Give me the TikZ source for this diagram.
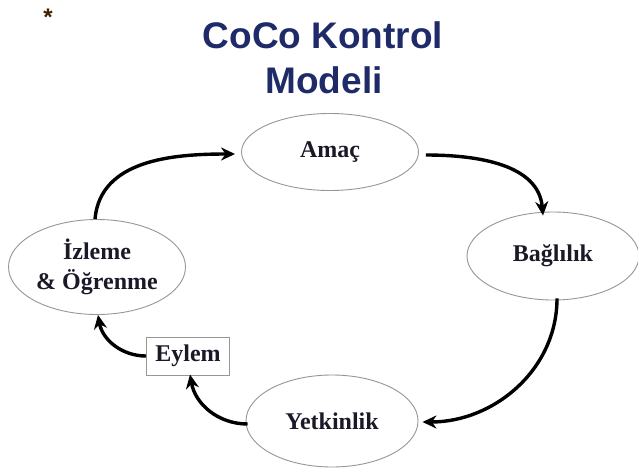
\documentclass[tikz,border=0pt]{standalone}
\usepackage{fontspec}
\setmainfont{Liberation Serif}
\newfontfamily\titlefont{Liberation Sans}
\usetikzlibrary{shapes.geometric,arrows.meta}
\definecolor{titleblue}{RGB}{31,42,104}
\definecolor{ringgray}{RGB}{150,150,150}
\definecolor{labelink}{RGB}{25,25,40}
\tikzset{
  stage/.style={ellipse, draw=ringgray, line width=0.9pt, inner sep=0pt,
    text=labelink, font=\fontsize{24}{30}\selectfont\bfseries, align=center},
  actbox/.style={rectangle, draw=ringgray, line width=1pt, inner sep=0pt,
    minimum width=83pt, minimum height=38pt,
    text=labelink, font=\fontsize{24}{30}\selectfont\bfseries},
  flow/.style={line width=3.4pt, -{Stealth[length=14pt,width=13pt]}},
  titletext/.style={text=titleblue, font=\fontsize{37}{45}\selectfont\titlefont\bfseries, inner sep=0pt, anchor=base}
}
\begin{document}
\begin{tikzpicture}[x=1pt,y=-1pt]
\useasboundingbox (0,0) rectangle (638,469);
\fill[white] (0,0) rectangle (638,469);

\node[anchor=base, inner sep=0pt, text=black!75!orange, font=\fontsize{24}{26}\selectfont\titlefont\bfseries] (star) at (48,25) {*};
\node[titletext] (t1) at (323,48) {CoCo Kontrol};
\node[titletext] (t2) at (324,93) {Modeli};

\node[stage, minimum width=177pt, minimum height=77pt] (amac) at (330,152) {Amaç};
\node[stage, minimum width=172pt, minimum height=88pt] (bag) at (553,256) {Bağlılık};
\node[stage, minimum width=172pt, minimum height=92pt] (yet) at (332,421) {Yetkinlik};
\node[stage, minimum width=177pt, minimum height=95pt] (izl) at (97,267) {İzleme\\\& Öğrenme};
\node[actbox] (eylem) at (188,356) {Eylem};

\draw[flow] ([shift={(7pt,-3pt)}]amac.east) to[out=0, in=95] ([shift={(-10pt,-4pt)}]bag.north);
\draw[flow] ([shift={(4pt,2pt)}]bag.south) to[out=-90, in=0] ([shift={(4pt,-1pt)}]yet.east);
\draw[flow] ([shift={(2pt,-3pt)}]yet.west) to[out=180, in=-80] ([shift={(2pt,1pt)}]eylem.south);
\draw[flow] (eylem.west) to[out=180, in=-80] ([shift={(1pt,0pt)}]izl.south);
\draw[flow] ([shift={(-2pt,0pt)}]izl.north) to[out=85, in=180] ([shift={(-6pt,-2pt)}]amac.west);
\end{tikzpicture}
\end{document}
